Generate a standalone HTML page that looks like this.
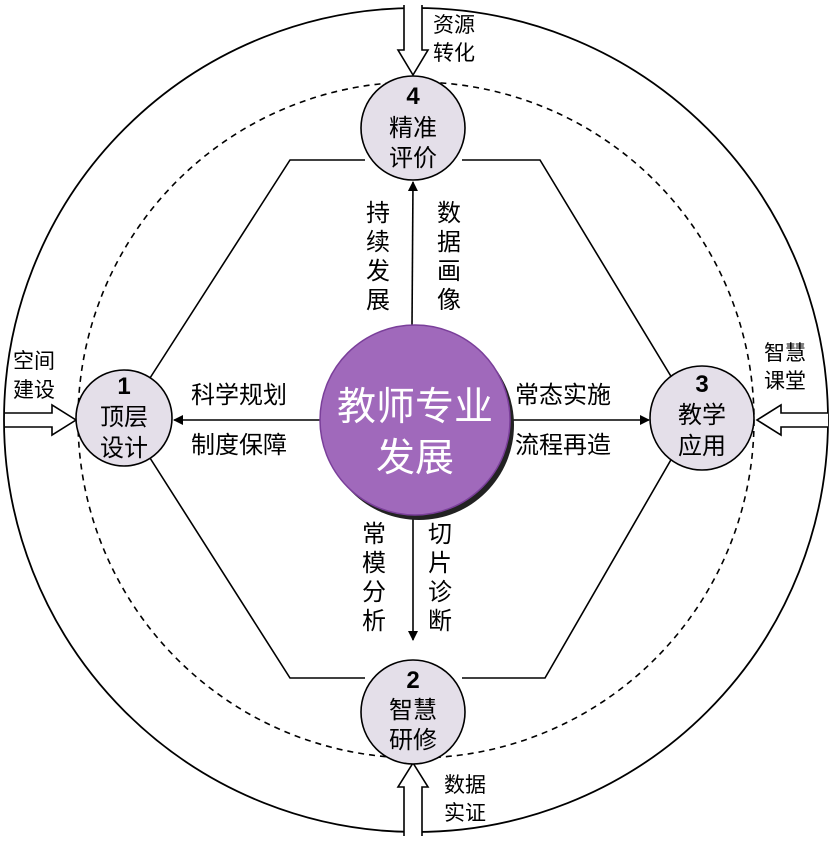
<!DOCTYPE html>
<html><head><meta charset="utf-8"><style>
body{margin:0;background:#fff}
svg text{font-family:"Liberation Sans","Noto Sans CJK SC",sans-serif;fill:#000}
</style></head><body>
<svg width="833" height="840" viewBox="0 0 833 840" xmlns="http://www.w3.org/2000/svg">
<defs>
<marker id="ah" markerWidth="10" markerHeight="10" refX="9" refY="5" orient="auto" markerUnits="userSpaceOnUse"><path d="M0,0 L10,5 L0,10 z" fill="#000"/></marker>
</defs>
<circle cx="416" cy="420" r="412" fill="none" stroke="#000" stroke-width="1.8"/>
<circle cx="416" cy="420" r="338" fill="none" stroke="#000" stroke-width="1.6" stroke-dasharray="6,5"/>
<g fill="none" stroke="#000" stroke-width="1.6">
<polyline points="150,378 290,160 365,160"/>
<polyline points="462,160 540,160 672,378"/>
<polyline points="150,458 290,678 365,678"/>
<polyline points="462,678 545,678 672,458"/>
</g>
<g stroke="#000" stroke-width="1.6">
<line x1="412" y1="326" x2="413" y2="182" marker-end="url(#ah)"/>
<line x1="413" y1="514" x2="413" y2="640" marker-end="url(#ah)"/>
<line x1="322" y1="420" x2="174" y2="420" marker-end="url(#ah)"/>
<line x1="508" y1="420" x2="649" y2="420" marker-end="url(#ah)"/>
</g>
<g fill="#fff" stroke="#000" stroke-width="1.6">
<path d="M404,5 V50 H398 L413,75 L428,50 H422 V5"/>
<path d="M5,413 H52 V405 L76,420 L52,435 V427 H5"/>
<path d="M828,413 H781 V405 L757,420 L781,435 V427 H828"/>
<path d="M404,836 V787 H398 L413,763 L428,787 H422 V836"/>
</g>
<circle cx="419" cy="425" r="95" fill="#222"/>
<circle cx="415" cy="420" r="95" fill="#a069bb" stroke="#7a3f9a" stroke-width="1.5"/>
<text x="415" y="420" font-size="39" text-anchor="middle" style="fill:#fff">教师专业</text>
<text x="415" y="471" font-size="39" text-anchor="middle" style="fill:#fff">发展</text>
<g fill="#e4dfe9" stroke="#000" stroke-width="1.6">
<circle cx="413" cy="128" r="52"/>
<circle cx="124" cy="418" r="48"/>
<circle cx="702" cy="418" r="52"/>
<circle cx="413" cy="712" r="52"/>
</g>
<g font-size="24" text-anchor="middle">
<text x="413" y="104" font-weight="bold">4</text>
<text x="413" y="136">精准</text><text x="413" y="166">评价</text>
<text x="124" y="394" font-weight="bold">1</text>
<text x="124" y="425">顶层</text><text x="124" y="456">设计</text>
<text x="702" y="392" font-weight="bold">3</text>
<text x="702" y="423">教学</text><text x="702" y="454">应用</text>
<text x="413" y="688" font-weight="bold">2</text>
<text x="413" y="718">智慧</text><text x="413" y="748">研修</text>
</g>
<g font-size="24">
<text x="191" y="403">科学规划</text>
<text x="191" y="453">制度保障</text>
<text x="515" y="403">常态实施</text>
<text x="515" y="453">流程再造</text>
</g>
<g font-size="24" text-anchor="middle">
<text x="378" y="221">持</text><text x="378" y="250">续</text><text x="378" y="279">发</text><text x="378" y="308">展</text>
<text x="449" y="221">数</text><text x="449" y="250">据</text><text x="449" y="279">画</text><text x="449" y="308">像</text>
<text x="374" y="542">常</text><text x="374" y="571">模</text><text x="374" y="600">分</text><text x="374" y="629">析</text>
<text x="440" y="542">切</text><text x="440" y="571">片</text><text x="440" y="600">诊</text><text x="440" y="629">断</text>
</g>
<g font-size="21">
<text x="433" y="32">资源</text><text x="433" y="60">转化</text>
<text x="13" y="368">空间</text><text x="13" y="397">建设</text>
<text x="764" y="360">智慧</text><text x="764" y="388">课堂</text>
<text x="444" y="792">数据</text><text x="444" y="820">实证</text>
</g>
</svg>
</body></html>
